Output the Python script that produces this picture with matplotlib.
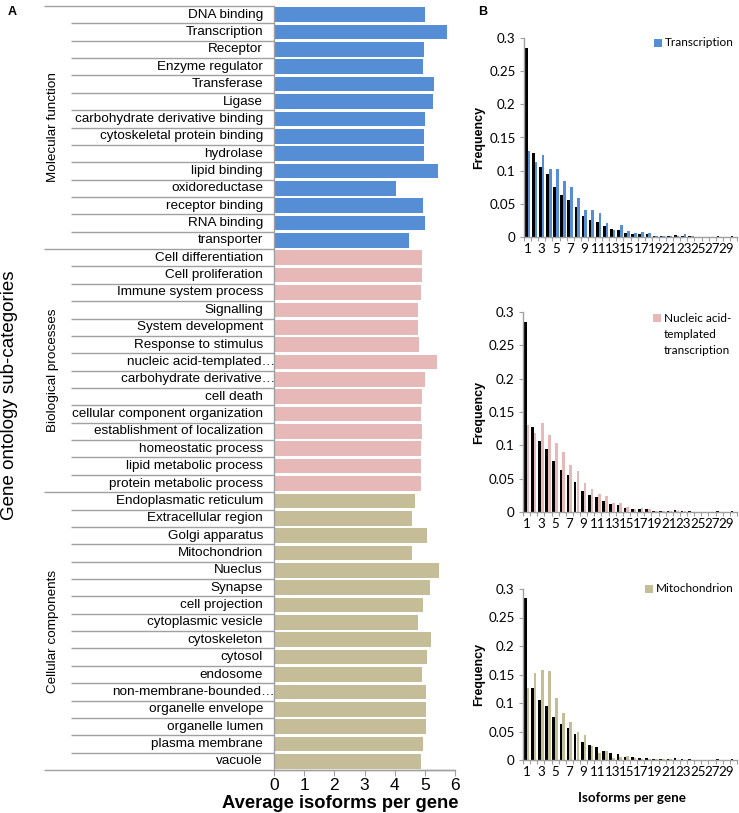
import matplotlib
matplotlib.use("Agg")
import matplotlib.pyplot as plt
from matplotlib.transforms import blended_transform_factory
from matplotlib.patches import Rectangle
import numpy as np

# ---------------- data ----------------
mf_labels = ["DNA binding", "Transcription", "Receptor", "Enzyme regulator", "Transferase",
             "Ligase", "carbohydrate derivative binding", "cytoskeletal protein binding",
             "hydrolase", "lipid binding", "oxidoreductase", "receptor binding",
             "RNA binding", "transporter"]
mf_values = [5.02, 5.73, 4.97, 4.95, 5.29, 5.28, 5.00, 4.97, 4.96, 5.42, 4.05, 4.95, 5.00, 4.49]

bp_labels = ["Cell differentiation", "Cell proliferation", "Immune system process", "Signalling",
             "System development", "Response to stimulus", "nucleic acid-templated…",
             "carbohydrate derivative…", "cell death", "cellular component organization",
             "establishment of localization", "homeostatic process", "lipid metabolic process",
             "protein metabolic process"]
bp_values = [4.90, 4.90, 4.88, 4.76, 4.76, 4.81, 5.39, 5.00, 4.89, 4.87, 4.92, 4.87, 4.88, 4.88]

cc_labels = ["Endoplasmatic reticulum", "Extracellular region", "Golgi apparatus", "Mitochondrion",
             "Nueclus", "Synapse", "cell projection", "cytoplasmic vesicle", "cytoskeleton",
             "cytosol", "endosome", "non-membrane-bounded…", "organelle envelope",
             "organelle lumen", "plasma membrane", "vacuole"]
cc_values = [4.66, 4.58, 5.06, 4.59, 5.47, 5.17, 4.93, 4.79, 5.22, 5.08, 4.92, 5.03, 5.03, 5.03,
             4.95, 4.86]

group_names = ["Molecular function", "Biological processes", "Cellular components"]

isoforms = list(range(1, 31))
all_genes = [0.285, 0.127, 0.106, 0.095, 0.076, 0.063, 0.056, 0.045, 0.031, 0.026,
             0.022, 0.016, 0.012, 0.010, 0.006, 0.005, 0.004, 0.004, 0.001, 0.001,
             0.001, 0.003, 0.001, 0.001, 0.0005, 0.0005, 0.0005, 0.0015, 0.0005, 0.0015]
transcription = [0.129, 0.113, 0.124, 0.103, 0.103, 0.085, 0.076, 0.059, 0.040, 0.041,
                 0.036, 0.021, 0.011, 0.018, 0.009, 0.006, 0.008, 0.006, 0.002, 0.002,
                 0.001, 0.001, 0.004, 0.001, 0.0, 0.0, 0.0, 0.0, 0.0, 0.0]
nucleic = [0.130, 0.119, 0.134, 0.116, 0.103, 0.090, 0.070, 0.061, 0.044, 0.035,
           0.027, 0.024, 0.014, 0.013, 0.007, 0.005, 0.006, 0.004, 0.002, 0.002,
           0.001, 0.001, 0.001, 0.0, 0.0, 0.0, 0.0, 0.0, 0.0, 0.0]
mitochondrion = [0.127, 0.153, 0.158, 0.156, 0.108, 0.083, 0.067, 0.049, 0.043, 0.025,
                 0.012, 0.015, 0.004, 0.006, 0.007, 0.003, 0.002, 0.001, 0.001, 0.001,
                 0.001, 0.0, 0.0, 0.0, 0.0, 0.0, 0.0, 0.0, 0.0, 0.0]

BLUE = "#558ED5"
PINK = "#E6B9B8"
TAN = "#C4BD97"
GRAY = "#A0A0A0"

W, H = 739, 813
fig = plt.figure(figsize=(W / 100, H / 100), dpi=100)

def add_ax(l, t, r, b):
    return fig.add_axes([l / W, 1 - b / H, (r - l) / W, (b - t) / H])

def fx(px):
    return px / W

def fy(py):
    return 1 - py / H

LEFT_FONT = ["Liberation Sans", "DejaVu Sans"]
RIGHT_FONT = ["Lato", "DejaVu Sans"]

# ---------------- panel A ----------------
labels = mf_labels + bp_labels + cc_labels
values = mf_values + bp_values + cc_values
colors = [BLUE] * len(mf_labels) + [PINK] * len(bp_labels) + [TAN] * len(cc_labels)
n = len(labels)

AX_L, AX_T, AX_R, AX_B = 274, 6, 455, 770
axA = add_ax(AX_L, AX_T, AX_R, AX_B)
ypos = np.arange(n)
axA.barh(ypos, values, height=0.84, color=colors, edgecolor="none")
axA.set_xlim(0, 6)
axA.set_ylim(n - 0.5, -0.5)
axA.set_yticks([])
axA.set_xticks(range(0, 7))
axA.tick_params(axis="x", length=4, color=GRAY, pad=2, labelsize=12.5)
for t in axA.get_xticklabels():
    t.set_fontfamily(LEFT_FONT)
for s in ["top", "right"]:
    axA.spines[s].set_visible(False)
axA.spines["left"].set_color(GRAY)
axA.spines["bottom"].set_color(GRAY)
axA.spines["left"].set_linewidth(1.0)
axA.spines["bottom"].set_linewidth(1.0)

axw = AX_R - AX_L
def ax_frac(px):
    return (px - AX_L) / axw

trans = blended_transform_factory(axA.transAxes, axA.transData)
group_bounds = [0, len(mf_labels), len(mf_labels) + len(bp_labels), n]
for i in range(n + 1):
    xstart = 44 if i in group_bounds else 71
    xend = AX_R if i == n else AX_L
    axA.plot([ax_frac(xstart), ax_frac(xend)], [i - 0.5, i - 0.5], color=GRAY, lw=1.0,
             transform=trans, clip_on=False, solid_capstyle="butt")

for i, lab in enumerate(labels):
    xr = 275 if lab.endswith("…") else 263
    axA.text(ax_frac(xr), i, lab, transform=trans, ha="right", va="center",
             fontsize=9.7, family=LEFT_FONT)

for g in range(3):
    a, b = group_bounds[g], group_bounds[g + 1]
    axA.text(ax_frac(53), (a + b - 1) / 2, group_names[g], transform=trans, rotation=90,
             ha="center", va="center", fontsize=9.7, family=LEFT_FONT)

fig.text(fx(10), fy(395), "Gene ontology sub-categories", rotation=90, ha="center",
         va="center", fontsize=13.5, family=LEFT_FONT)
fig.text(fx(340), fy(808), "Average isoforms per gene", ha="center", va="baseline",
         fontsize=13.2, fontweight="bold", family=LEFT_FONT)
fig.text(fx(8), fy(15), "A", ha="left", va="baseline", fontsize=9, fontweight="bold",
         family=LEFT_FONT)
fig.text(fx(478), fy(15), "B", ha="left", va="baseline", fontsize=9, fontweight="bold",
         family=LEFT_FONT)

# ---------------- panel B ----------------
panels = [
    (transcription, BLUE, ["Transcription"], (524, 38, 737, 237), (654, 43)),
    (nucleic, PINK, ["Nucleic acid-", "templated", "transcription"], (523, 312, 737, 512), (653, 318)),
    (mitochondrion, TAN, ["Mitochondrion"], (523, 589, 737, 760), (645, 589)),
]
x = np.array(isoforms)
bw = 0.38
for k, (series, col, leg, (l, t, r, b), (lx, ly)) in enumerate(panels):
    ax = add_ax(l, t, r, b)
    ax.bar(x - bw / 2, all_genes, width=bw, color="black", edgecolor="none")
    ax.bar(x + bw / 2, series, width=bw, color=col, edgecolor="none")
    ax.set_xlim(0.5, 30.5)
    ax.set_ylim(0, 0.3)
    ax.set_yticks([0, 0.05, 0.1, 0.15, 0.2, 0.25, 0.3])
    ax.set_yticklabels(["0", "0.05", "0.1", "0.15", "0.2", "0.25", "0.3"])
    ax.set_xticks(np.arange(0.5, 31, 1.0), minor=False)
    ax.set_xticklabels([])
    ax.set_xticks(x[::2], minor=True)
    ax.set_xticklabels([str(v) for v in x[::2]], minor=True)
    ax.tick_params(axis="x", which="major", length=3, color=GRAY)
    ax.tick_params(axis="x", which="minor", length=0, pad=4, labelsize=9.6)
    ax.tick_params(axis="y", length=3, color=GRAY, labelsize=9.6, pad=3)
    for t_ in ax.get_xticklabels(minor=True) + ax.get_yticklabels():
        t_.set_fontfamily(RIGHT_FONT)
    for s in ["top", "right"]:
        ax.spines[s].set_visible(False)
    for s in ["left", "bottom"]:
        ax.spines[s].set_color(GRAY)
        ax.spines[s].set_linewidth(1.0)
    fig.text(fx(479), fy((t + b) / 2), "Frequency", rotation=90, ha="center", va="center",
             fontsize=9, fontweight="bold", family=LEFT_FONT)
    # legend
    fig.add_artist(Rectangle((fx(lx), fy(ly + 4)), 8 / W, 8 / H, transform=fig.transFigure,
                             facecolor=col, edgecolor="none"))
    for j, line in enumerate(leg):
        fig.text(fx(lx + 11), fy(ly + j * 16), line, ha="left", va="center", fontsize=8.5,
                 family=RIGHT_FONT)
    if k == 2:
        fig.text(fx(632), fy(798), "Isoforms per gene", ha="center", va="center",
                 fontsize=9.6, fontweight="bold", family=RIGHT_FONT)

fig.savefig("out.png", dpi=100)
